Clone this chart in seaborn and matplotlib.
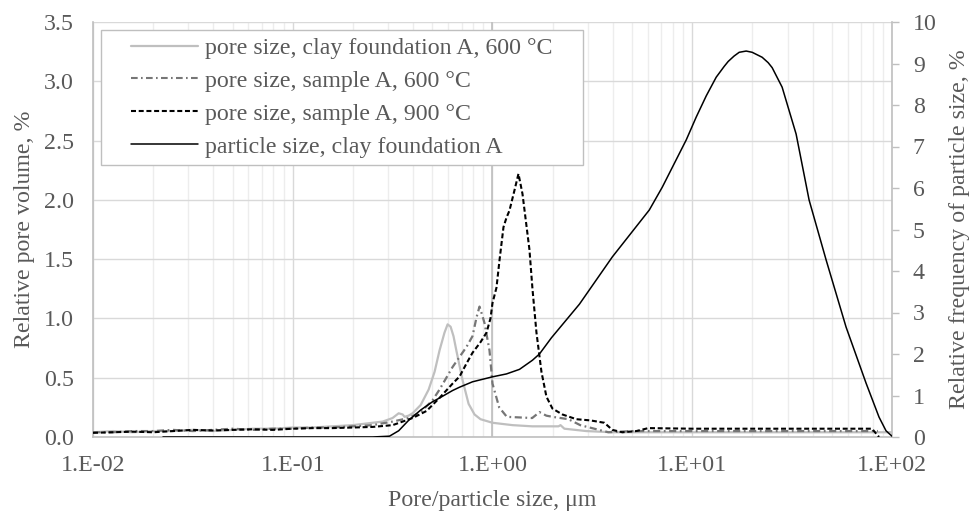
import matplotlib
matplotlib.use("Agg")
import matplotlib.pyplot as plt
import seaborn as sns
import pandas as pd
from matplotlib.ticker import FixedLocator, FixedFormatter, LogLocator, NullFormatter
from matplotlib.lines import Line2D
from matplotlib.legend_handler import HandlerLine2D

# ---------------- data ----------------
# pore size, clay foundation A, 600 °C  (left axis, %)
clay600_x = [0.0100, 0.0126, 0.0158, 0.0200, 0.0251, 0.0316, 0.0398, 0.0501, 0.0631, 0.0794,
             0.100, 0.126, 0.158, 0.200, 0.224, 0.251, 0.282, 0.316, 0.339, 0.355, 0.363,
             0.380, 0.398, 0.437, 0.479, 0.513, 0.543, 0.575, 0.596, 0.617, 0.638, 0.661,
             0.708, 0.759, 0.813, 0.871, 1.00, 1.26, 1.58, 2.14, 2.19, 2.29, 2.95, 3.98,
             10.0, 31.6, 100.0]
clay600_y = [0.04, 0.05, 0.04, 0.05, 0.05, 0.06, 0.05, 0.06, 0.07, 0.07,
             0.08, 0.08, 0.09, 0.10, 0.11, 0.12, 0.13, 0.16, 0.20, 0.19, 0.17,
             0.18, 0.20, 0.27, 0.40, 0.55, 0.73, 0.88, 0.95, 0.93, 0.85, 0.72,
             0.48, 0.28, 0.19, 0.15, 0.12, 0.10, 0.09, 0.09, 0.10, 0.07, 0.05, 0.04,
             0.04, 0.04, 0.04]

# pore size, sample A, 600 °C  (left axis, %)
a600_x = [0.0100, 0.0126, 0.0158, 0.0200, 0.0251, 0.0316, 0.0398, 0.0501, 0.0631, 0.0794,
          0.100, 0.126, 0.158, 0.200, 0.251, 0.316, 0.380, 0.437, 0.501, 0.543, 0.631,
          0.741, 0.794, 0.832, 0.861, 0.891, 0.912, 0.966, 1.00, 1.08, 1.18, 1.58, 1.72,
          1.86, 2.00, 2.40, 2.75, 3.80, 5.01, 10.0, 31.6, 85.1]
a600_y = [0.04, 0.04, 0.05, 0.05, 0.06, 0.05, 0.06, 0.07, 0.06, 0.07,
          0.07, 0.08, 0.08, 0.09, 0.10, 0.13, 0.16, 0.21, 0.31, 0.40, 0.59,
          0.76, 0.85, 1.01, 1.10, 1.02, 0.96, 0.73, 0.45, 0.25, 0.17, 0.16, 0.21,
          0.18, 0.17, 0.15, 0.10, 0.04, 0.05, 0.05, 0.05, 0.05]

# pore size, sample A, 900 °C  (left axis, %)
a900_x = [0.0100, 0.0126, 0.0158, 0.0200, 0.0251, 0.0316, 0.0398, 0.0501, 0.0631, 0.0794,
          0.100, 0.126, 0.158, 0.200, 0.251, 0.316, 0.355, 0.398, 0.468, 0.543, 0.631,
          0.684, 0.741, 0.794, 0.871, 0.933, 0.977, 1.00, 1.047, 1.084, 1.135, 1.175,
          1.216, 1.288, 1.349, 1.413, 1.462, 1.531, 1.585, 1.660, 1.758, 1.862, 1.995,
          2.239, 2.630, 3.090, 3.631, 3.981, 4.467, 5.248, 6.026, 10.0, 31.6, 79.4, 86.1]
a900_y = [0.035, 0.04, 0.045, 0.04, 0.05, 0.06, 0.055, 0.06, 0.065, 0.06,
          0.07, 0.075, 0.075, 0.08, 0.085, 0.10, 0.13, 0.16, 0.22, 0.33, 0.45,
          0.51, 0.62, 0.71, 0.80, 0.88, 1.00, 1.13, 1.26, 1.49, 1.77, 1.85,
          1.91, 2.08, 2.22, 2.05, 1.85, 1.58, 1.25, 0.88, 0.55, 0.34, 0.24,
          0.19, 0.15, 0.14, 0.12, 0.06, 0.04, 0.05, 0.075, 0.07, 0.07, 0.07, 0.0]

# particle size, clay foundation A  (right axis, %)
part_x = [0.0224, 0.100, 0.251, 0.305, 0.339, 0.380, 0.437, 0.501, 0.543, 0.631, 0.684,
          0.794, 1.00, 1.175, 1.365, 1.585, 1.718, 1.972, 2.723, 3.981, 6.095, 7.079,
          9.333, 10.47, 11.75, 13.18, 14.45, 15.14, 16.20, 17.18, 18.62, 19.95, 22.39,
          23.99, 25.12, 28.18, 33.11, 38.46, 46.77, 58.88, 74.13, 86.10, 93.33, 100.0]
part_y = [0.00, 0.00, 0.00, 0.02, 0.15, 0.40, 0.65, 0.85, 0.94, 1.12, 1.20,
          1.33, 1.45, 1.52, 1.63, 1.85, 2.00, 2.39, 3.20, 4.34, 5.47, 6.02,
          7.16, 7.71, 8.22, 8.67, 8.93, 9.05, 9.18, 9.27, 9.30, 9.27, 9.15,
          9.02, 8.90, 8.43, 7.30, 5.71, 4.27, 2.65, 1.30, 0.48, 0.15, 0.02]

series_labels = ["pore size, clay foundation A, 600 °C",
                 "pore size, sample A, 600 °C",
                 "pore size, sample A, 900 °C",
                 "particle size, clay foundation A"]

x_ticks = [0.01, 0.1, 1, 10, 100]
x_tick_labels = ["1.E-02", "1.E-01", "1.E+00", "1.E+01", "1.E+02"]
left_ticks = [0.0, 0.5, 1.0, 1.5, 2.0, 2.5, 3.0, 3.5]
left_tick_labels = ["0.0", "0.5", "1.0", "1.5", "2.0", "2.5", "3.0", "3.5"]
right_ticks = [0, 1, 2, 3, 4, 5, 6, 7, 8, 9, 10]
right_tick_labels = [str(v) for v in right_ticks]

x_label = "Pore/particle size, μm"
left_label = "Relative pore volume, %"
right_label = "Relative frequency of particle size, %"

# ---------------- styling ----------------
sns.set_theme(style="white")
plt.rcParams["font.family"] = ["Liberation Serif", "DejaVu Serif"]
TXT = "#595959"
FS = 17.2

C_CLAY = "#BFBFBF"
C_A600 = "#767676"
LS_A600 = (0, (3.2, 1.6, 0.8, 1.6))
LS_A900 = (0, (2.4, 1.3))

fig = plt.figure(figsize=(9.70, 5.15), dpi=100)
ax = fig.add_axes([93 / 970, 1 - 437 / 515, 799 / 970, 415 / 515])
ax.set_xscale("log")

sns.lineplot(data=pd.DataFrame({"x": clay600_x, "y": clay600_y}), x="x", y="y", ax=ax,
             color=C_CLAY, lw=1.6, sort=False, estimator=None, zorder=3)
sns.lineplot(data=pd.DataFrame({"x": a600_x, "y": a600_y}), x="x", y="y", ax=ax,
             color=C_A600, lw=1.6, sort=False, estimator=None, zorder=4,
             linestyle=LS_A600)
sns.lineplot(data=pd.DataFrame({"x": a900_x, "y": a900_y}), x="x", y="y", ax=ax,
             color="black", lw=1.5, sort=False, estimator=None, zorder=5,
             linestyle=LS_A900)

ax.set_xlim(0.01, 100)
ax.set_ylim(0, 3.5)
ax.xaxis.set_major_locator(FixedLocator(x_ticks))
ax.xaxis.set_major_formatter(FixedFormatter(x_tick_labels))
ax.xaxis.set_minor_locator(LogLocator(base=10, subs=[2, 3, 4, 5, 6, 7, 8, 9], numticks=20))
ax.xaxis.set_minor_formatter(NullFormatter())
ax.yaxis.set_major_locator(FixedLocator(left_ticks))
ax.yaxis.set_major_formatter(FixedFormatter(left_tick_labels))

ax.grid(which="major", axis="both", color="#D9D9D9", lw=1.0)
ax.grid(which="minor", axis="x", color="#EDEDED", lw=1.0)
ax.set_axisbelow(True)
ax.axvline(1, color="#BFBFBF", lw=1.2, zorder=1)

ax.tick_params(axis="x", which="both", length=0, pad=13, labelsize=FS, labelcolor=TXT)
ax.tick_params(axis="y", which="both", length=0, pad=14, labelsize=FS, labelcolor=TXT)
for s in ["top", "right"]:
    ax.spines[s].set_visible(False)
for s in ["left", "bottom"]:
    ax.spines[s].set_color("#BFBFBF")
    ax.spines[s].set_linewidth(1.2)

ax.set_xlabel(x_label, fontsize=FS, color=TXT, labelpad=10)
ax.set_ylabel(left_label, fontsize=FS, color=TXT, labelpad=6)

ax2 = ax.twinx()
sns.lineplot(data=pd.DataFrame({"x": part_x, "y": part_y}), x="x", y="y", ax=ax2,
             color="black", lw=1.1, sort=False, estimator=None, zorder=6)
ax2.set_xlim(0.01, 100)
ax2.set_ylim(0, 10)
ax2.yaxis.set_major_locator(FixedLocator(right_ticks))
ax2.yaxis.set_major_formatter(FixedFormatter(right_tick_labels))
ax2.tick_params(axis="y", length=5, width=1.0, color="#BFBFBF", direction="out",
                pad=10, labelsize=FS, labelcolor=TXT)
ax2.grid(False)
for s in ["top", "left", "bottom"]:
    ax2.spines[s].set_visible(False)
ax2.spines["right"].set_color("#BFBFBF")
ax2.spines["right"].set_linewidth(1.2)
ax2.set_ylabel(right_label, fontsize=FS, color=TXT, labelpad=9)


class ShiftedLine(HandlerLine2D):
    """Legend line handle that starts a bit to the right of the handle box."""
    def __init__(self, shift, **kw):
        super().__init__(**kw)
        self.shift = shift

    def create_artists(self, legend, orig_handle, xdescent, ydescent, width, height,
                       fontsize, trans):
        s = self.shift * fontsize
        return super().create_artists(legend, orig_handle, xdescent - s, ydescent,
                                      width - s, height, fontsize, trans)


handles = [
    Line2D([], [], color=C_CLAY, lw=1.6),
    Line2D([], [], color=C_A600, lw=1.5, linestyle=LS_A600),
    Line2D([], [], color="black", lw=1.5, linestyle=LS_A900),
    Line2D([], [], color="black", lw=1.1),
]
x0 = (101 - 93) / 799
y_top = (437 - 30) / 415
y_bot = (437 - 163) / 415
leg = ax2.legend(handles, series_labels, loc="upper left",
                 bbox_to_anchor=(x0, y_bot, (583 - 101) / 799, y_top - y_bot),
                 mode="expand", borderaxespad=0, fancybox=False, framealpha=1,
                 edgecolor="#BFBFBF", fontsize=FS, handlelength=3.75, handletextpad=0.3,
                 labelspacing=0.47, borderpad=0.3, labelcolor=TXT,
                 handler_map={Line2D: ShiftedLine(0.94)})
leg.get_frame().set_linewidth(1.0)
leg.set_zorder(20)

fig.savefig("out.png", dpi=100)
